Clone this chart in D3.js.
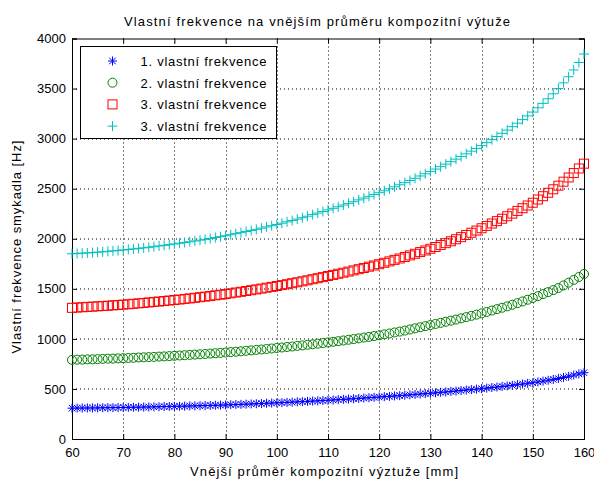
<!DOCTYPE html>
<html>
<head>
<meta charset="utf-8">
<script src="https://cdn.jsdelivr.net/npm/d3@7"></script>
<style>
  html, body { margin: 0; padding: 0; background: #fff; }
  svg { display: block; font-family: "Liberation Sans", Arial, Helvetica, sans-serif; }
</style>
</head>
<body>
<svg id="chart" width="594" height="479"></svg>
<script>
// Outer diameter of the composite reinforcement [mm]
const diameters = [
  60, 61, 62, 63, 64, 65, 66, 67, 68, 69, 70, 71, 72, 73, 74, 75, 76, 77, 78, 79,
  80, 81, 82, 83, 84, 85, 86, 87, 88, 89, 90, 91, 92, 93, 94, 95, 96, 97, 98, 99,
  100, 101, 102, 103, 104, 105, 106, 107, 108, 109, 110, 111, 112, 113, 114, 115, 116, 117, 118, 119,
  120, 121, 122, 123, 124, 125, 126, 127, 128, 129, 130, 131, 132, 133, 134, 135, 136, 137, 138, 139,
  140, 141, 142, 143, 144, 145, 146, 147, 148, 149, 150, 151, 152, 153, 154, 155, 156, 157, 158, 159, 160
];

// Natural frequencies [Hz]
const freq1 = [
  308, 309, 309, 310, 310, 311, 312, 313, 313, 314, 315, 316, 317, 318, 319, 320, 321, 322, 324, 325,
  326, 327, 328, 330, 331, 332, 334, 335, 337, 338, 340, 342, 344, 346, 348, 350, 352, 354, 357, 359,
  361, 363, 366, 368, 371, 373, 376, 379, 381, 384, 387, 390, 393, 396, 399, 402, 405, 409, 412, 416,
  419, 423, 426, 430, 433, 437, 441, 445, 449, 453, 457, 461, 466, 470, 475, 479, 484, 489, 493, 498,
  503, 508, 514, 519, 525, 530, 536, 543, 549, 556, 562, 570, 578, 587, 595, 604, 615, 626, 638, 650, 662
];
const freq2 = [
  790, 792, 793, 795, 796, 798, 800, 802, 803, 805, 807, 809, 811, 814, 816, 818, 820, 823, 825, 828,
  831, 834, 837, 840, 843, 846, 849, 853, 857, 860, 864, 868, 872, 876, 881, 885, 890, 894, 899, 904,
  909, 914, 919, 924, 930, 935, 941, 946, 952, 958, 964, 971, 977, 984, 991, 998, 1005, 1013, 1020, 1028,
  1036, 1045, 1054, 1064, 1073, 1083, 1094, 1105, 1116, 1127, 1138, 1149, 1160, 1171, 1182, 1193, 1205, 1217, 1230, 1242,
  1255, 1269, 1283, 1297, 1311, 1325, 1341, 1357, 1374, 1391, 1408, 1427, 1447, 1467, 1487, 1508, 1534, 1561, 1589, 1618, 1648
];
const freq3 = [
  1310, 1313, 1316, 1319, 1322, 1325, 1328, 1331, 1335, 1338, 1342, 1346, 1350, 1355, 1359, 1364, 1369, 1373, 1378, 1383,
  1388, 1393, 1399, 1404, 1410, 1416, 1422, 1428, 1435, 1441, 1448, 1455, 1463, 1470, 1478, 1486, 1494, 1502, 1511, 1519,
  1528, 1537, 1546, 1556, 1565, 1575, 1585, 1596, 1606, 1617, 1628, 1639, 1650, 1661, 1672, 1684, 1696, 1708, 1721, 1733,
  1746, 1760, 1774, 1789, 1803, 1818, 1834, 1850, 1867, 1883, 1900, 1918, 1937, 1956, 1975, 1995, 2016, 2038, 2060, 2082,
  2105, 2128, 2152, 2176, 2200, 2225, 2251, 2278, 2305, 2332, 2360, 2392, 2425, 2459, 2494, 2530, 2570, 2612, 2656, 2702, 2750
];
const freq4 = [
  1850, 1853, 1856, 1859, 1862, 1866, 1870, 1874, 1879, 1883, 1888, 1893, 1898, 1904, 1909, 1915, 1921, 1928, 1934, 1941,
  1948, 1955, 1963, 1970, 1978, 1986, 1994, 2003, 2012, 2021, 2030, 2040, 2051, 2061, 2072, 2083, 2094, 2106, 2118, 2130,
  2142, 2155, 2169, 2182, 2196, 2210, 2225, 2241, 2256, 2272, 2288, 2304, 2320, 2337, 2353, 2370, 2388, 2406, 2424, 2442,
  2460, 2479, 2499, 2519, 2539, 2560, 2582, 2604, 2627, 2649, 2672, 2696, 2720, 2745, 2770, 2795, 2821, 2848, 2875, 2902,
  2930, 2960, 2990, 3021, 3053, 3085, 3119, 3154, 3190, 3227, 3265, 3308, 3352, 3398, 3448, 3500, 3557, 3618, 3686, 3760, 3845
];

const seriesNames = ["1. vlastní frekvence", "2. vlastní frekvence", "3. vlastní frekvence", "3. vlastní frekvence"];
const xTicks = [60, 70, 80, 90, 100, 110, 120, 130, 140, 150, 160];
const yTicks = [0, 500, 1000, 1500, 2000, 2500, 3000, 3500, 4000];

const titleText = "Vlastní frekvence na vnějším průměru kompozitní výtuže";
const xLabelText = "Vnější průměr kompozitní výztuže [mm]";
const yLabelText = "Vlastní frekvence smykadla [Hz]";

// Layout
const margin = { left: 72, right: 10, top: 38.5, bottom: 40 };
const W = 594, H = 479;
const plotW = W - margin.left - margin.right;
const plotH = H - margin.top - margin.bottom;
const fontSize = 13;

const svg = d3.select("#chart");
const g = svg.append("g").attr("transform", `translate(${margin.left},${margin.top})`);

const x = d3.scaleLinear().domain([60, 160]).range([0, plotW]);
const y = d3.scaleLinear().domain([0, 4000]).range([plotH, 0]);

// Dotted grid
g.append("g").selectAll("line").data(xTicks.slice(1, -1)).join("line")
  .attr("x1", d => Math.round(x(d)) + 0.5).attr("x2", d => Math.round(x(d)) + 0.5)
  .attr("y1", 0).attr("y2", plotH)
  .attr("stroke", "#000").attr("stroke-width", 1).attr("stroke-dasharray", "1,3");
g.append("g").selectAll("line").data(yTicks.slice(1, -1)).join("line")
  .attr("y1", d => Math.round(y(d)) + 0.5).attr("y2", d => Math.round(y(d)) + 0.5)
  .attr("x1", 0).attr("x2", plotW)
  .attr("stroke", "#000").attr("stroke-width", 1).attr("stroke-dasharray", "1,3");

// Axes (ticks pointing inward, labels outside)
const tickLen = 5;
const xAxis = g.append("g").attr("transform", `translate(0,${plotH})`)
  .call(d3.axisBottom(x).tickValues(xTicks).tickSize(-tickLen).tickPadding(9).tickFormat(d3.format("d")));
const xAxisTop = g.append("g")
  .call(d3.axisTop(x).tickValues(xTicks).tickSize(-tickLen).tickFormat(""));
const yAxis = g.append("g")
  .call(d3.axisLeft(y).tickValues(yTicks).tickSize(-tickLen).tickPadding(6).tickFormat(d3.format("d")));
const yAxisRight = g.append("g").attr("transform", `translate(${plotW},0)`)
  .call(d3.axisRight(y).tickValues(yTicks).tickSize(-tickLen).tickFormat(""));

[xAxis, xAxisTop, yAxis, yAxisRight].forEach(a => {
  a.select(".domain").attr("stroke", "#000").attr("stroke-width", 1);
  a.selectAll(".tick line").attr("stroke", "#000");
  a.selectAll("text").attr("fill", "#000").attr("font-size", fontSize)
    .attr("font-family", '"Liberation Sans", Arial, sans-serif');
});

// Marker symbols
const markerSize = 5;
function drawMarker(sel, kind, color) {
  const s = markerSize;
  if (kind === "star") {
    const r = s - 0.5, d = r * 0.72;
    sel.append("path")
      .attr("d", `M${-r},0H${r}M0,${-r}V${r}M${-d},${-d}L${d},${d}M${-d},${d}L${d},${-d}`)
      .attr("fill", "none").attr("stroke", color).attr("stroke-width", 1);
  } else if (kind === "circle") {
    sel.append("circle").attr("r", s - 0.5)
      .attr("fill", "none").attr("stroke", color).attr("stroke-width", 1);
  } else if (kind === "square") {
    sel.append("rect").attr("x", -s + 0.5).attr("y", -s + 0.5)
      .attr("width", 2 * s - 1).attr("height", 2 * s - 1)
      .attr("fill", "none").attr("stroke", color).attr("stroke-width", 1);
  } else {
    sel.append("path")
      .attr("d", `M${-s},0H${s}M0,${-s}V${s}`)
      .attr("fill", "none").attr("stroke", color).attr("stroke-width", 1);
  }
}

const series = [
  { name: seriesNames[0], values: freq1, kind: "star", color: "#0000ff" },
  { name: seriesNames[1], values: freq2, kind: "circle", color: "#008000" },
  { name: seriesNames[2], values: freq3, kind: "square", color: "#ff0000" },
  { name: seriesNames[3], values: freq4, kind: "plus", color: "#00bfbf" }
];

series.forEach(s => {
  const pts = g.append("g").selectAll("g").data(diameters.map((d, i) => [d, s.values[i]])).join("g")
    .attr("transform", d => `translate(${x(d[0])},${y(d[1])})`);
  pts.each(function () { drawMarker(d3.select(this), s.kind, s.color); });
});

// Legend
const legend = svg.append("g").attr("transform", "translate(80.5,46.5)");
legend.append("rect").attr("width", 196).attr("height", 92)
  .attr("fill", "#fff").attr("stroke", "#000").attr("stroke-width", 1);
series.forEach((s, i) => {
  const row = legend.append("g").attr("transform", `translate(0,${14.5 + i * 21.7})`);
  const m = row.append("g").attr("transform", "translate(32,0)");
  drawMarker(m, s.kind, s.color);
  row.append("text").attr("x", 60).attr("y", 5)
    .attr("font-size", fontSize).attr("fill", "#000")
    .attr("textLength", 126).attr("lengthAdjust", "spacing")
    .text(s.name);
});

// Title and axis labels
svg.append("text").attr("x", 317).attr("y", 26).attr("text-anchor", "middle")
  .attr("font-size", fontSize).attr("fill", "#000")
  .attr("textLength", 386).attr("lengthAdjust", "spacing").text(titleText);
svg.append("text").attr("x", 324).attr("y", 476).attr("text-anchor", "middle")
  .attr("font-size", fontSize).attr("fill", "#000")
  .attr("textLength", 268).attr("lengthAdjust", "spacing").text(xLabelText);
svg.append("text").attr("transform", "translate(21,247) rotate(-90)").attr("text-anchor", "middle")
  .attr("font-size", fontSize).attr("fill", "#000")
  .attr("textLength", 213).attr("lengthAdjust", "spacing").text(yLabelText);
</script>
</body>
</html>
